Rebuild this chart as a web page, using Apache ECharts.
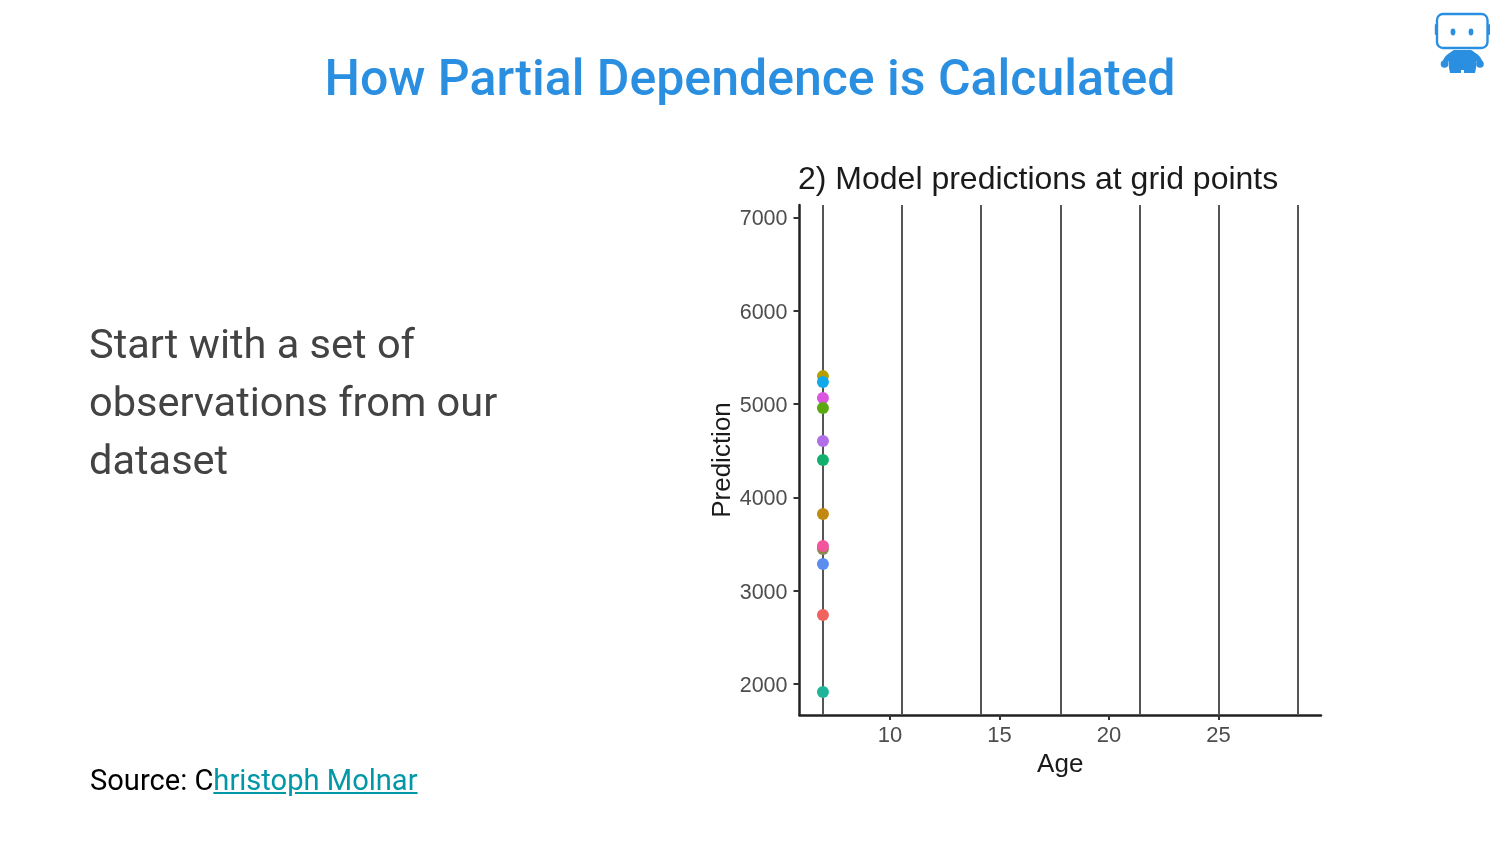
<!DOCTYPE html>
<html>
<head>
<meta charset="utf-8">
<title>How Partial Dependence is Calculated</title>
<script src="https://cdn.jsdelivr.net/npm/echarts@6/dist/echarts.min.js"></script>
<style>
html,body{margin:0;padding:0;background:#fff;}
#slide{position:relative;width:1500px;height:844px;overflow:hidden;font-family:Roboto,sans-serif;}
#chartDom{position:absolute;left:0;top:0;width:1500px;height:844px;}
.title{position:absolute;left:0;top:45px;width:1500px;text-align:center;font-size:50px;line-height:66px;font-weight:500;color:#2a8fe0;}
.body{position:absolute;left:89px;top:315px;font-size:41.5px;line-height:58px;color:#434343;}
.source{position:absolute;left:90px;top:762px;font-size:29.1px;line-height:36px;color:#000;}
.source a{color:#0097a7;text-decoration:underline;}
.logo{position:absolute;left:1430px;top:8px;}
</style>
</head>
<body>
<div id="slide">
  <div id="chartDom"></div>
  <div class="title">How Partial Dependence is Calculated</div>
  <div class="body">Start with a set of<br>observations from our<br>dataset</div>
  <div class="source">Source: C<a href="#">hristoph Molnar</a></div>
  <svg class="logo" width="64" height="70" viewBox="1430 8 64 70">
    <rect x="1437" y="14" width="50.5" height="34" rx="6" fill="#fff" stroke="#2a8fe0" stroke-width="2.4"/>
    <rect x="1434.8" y="24" width="2" height="11" rx="1" fill="#2a8fe0"/>
    <rect x="1488" y="24" width="2" height="11" rx="1" fill="#2a8fe0"/>
    <ellipse cx="1453" cy="32" rx="2.4" ry="3.4" fill="#2a8fe0"/>
    <ellipse cx="1471" cy="32" rx="2.4" ry="3.4" fill="#2a8fe0"/>
    <path d="M1454 50 H1471 Q1476 52 1477 57 L1476 68 L1475 73 H1464 V70 H1461 V73 H1450 L1449 68 L1448 57 Q1449 52 1454 50 Z" fill="#2a8fe0"/>
    <path d="M1451 55 Q1446 58 1445 63" fill="none" stroke="#2a8fe0" stroke-width="5"/>
    <path d="M1474 55 Q1479 58 1480 63" fill="none" stroke="#2a8fe0" stroke-width="5"/>
    <circle cx="1444.5" cy="64" r="3.8" fill="#2a8fe0"/>
    <circle cx="1480" cy="64" r="3.8" fill="#2a8fe0"/>
  </svg>
</div>

<script>
// grid points on the age axis
var gridAges = [6.94, 10.55, 14.13, 17.78, 21.4, 25.0, 28.6];
var xTicks = [10, 15, 20, 25];
var yTicks = [2000, 3000, 4000, 5000, 6000, 7000];

// predictions at the first grid point, one per observation
var pointAge = 6.94;
var predictions = [5300, 5237, 5065, 4958, 4604, 4400, 3822, 3447, 3479, 3286, 2740, 1914];
var pointColors = ['#b79f00', '#12a8ec', '#dc55e0', '#5ba80f', '#b06fe8', '#12b06f', '#c08a10', '#8a8a50', '#f2559b', '#5b8def', '#f0645f', '#1fb59b'];

var myChart = echarts.init(document.getElementById('chartDom'));
var fontName = '"Liberation Sans", Arial, sans-serif';

var option = {
  animation: false,
  title: {
    text: '2) Model predictions at grid points',
    left: 793,
    top: 159,
    textStyle: { fontFamily: fontName, fontSize: 32, fontWeight: 'normal', color: '#1a1a1a' }
  },
  grid: { left: 799.5, top: 205, width: 521.5, height: 510 },
  xAxis: {
    type: 'value',
    min: 5.87,
    max: 29.68,
    name: 'Age',
    nameLocation: 'middle',
    nameGap: 37,
    nameTextStyle: { fontFamily: fontName, fontSize: 26, color: '#1a1a1a' },
    splitLine: { show: false },
    axisLine: { lineStyle: { color: '#222', width: 2.5 } },
    axisTick: { customValues: xTicks, length: 5, lineStyle: { color: '#333', width: 2 } },
    axisLabel: { customValues: xTicks, margin: 10, fontFamily: fontName, fontSize: 22, color: '#4d4d4d' }
  },
  yAxis: {
    type: 'value',
    min: 1668,
    max: 7134,
    name: 'Prediction',
    nameLocation: 'middle',
    nameGap: 63,
    nameTextStyle: { fontFamily: fontName, fontSize: 26, color: '#1a1a1a' },
    splitLine: { show: false },
    axisLine: { show: true, lineStyle: { color: '#222', width: 2.5 } },
    axisTick: { show: true, customValues: yTicks, length: 6, lineStyle: { color: '#333', width: 2 } },
    axisLabel: {
      customValues: yTicks,
      margin: 12,
      formatter: function (v) { return '{t|' + v + '}'; },
      rich: {
        t: { fontFamily: fontName, fontSize: 21.5, color: '#4d4d4d', padding: [4, 0, 0, 0] }
      }
    }
  },
  series: [
    {
      type: 'scatter',
      symbolSize: 12,
      z: 5,
      data: predictions.map(function (v, i) {
        return { value: [pointAge, v], itemStyle: { color: pointColors[i], opacity: 1 } };
      }),
      markLine: {
        silent: true,
        symbol: 'none',
        label: { show: false },
        lineStyle: { color: '#555', width: 2, type: 'solid' },
        data: gridAges.map(function (a) { return { xAxis: a }; })
      }
    }
  ]
};
option && myChart.setOption(option);
</script>
</body>
</html>
